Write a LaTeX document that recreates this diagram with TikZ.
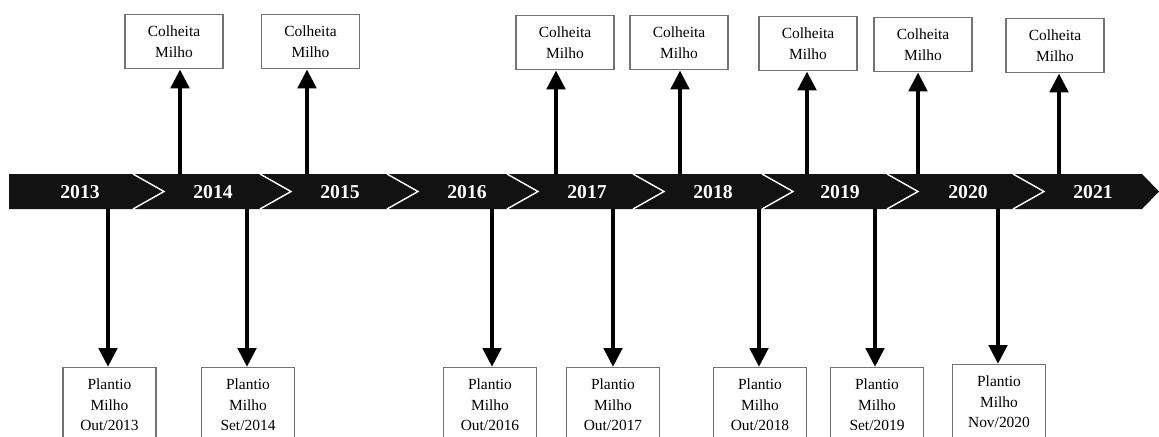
\documentclass[tikz,border=0pt]{standalone}
\usepackage{fontspec}
\setmainfont{Liberation Serif}
\usetikzlibrary{arrows.meta}

\begin{document}
\begin{tikzpicture}[x=0.02cm, y=-0.02cm,
        ano/.style={text=white, font=\fontsize{11.2}{13}\selectfont\bfseries},
        caixa/.style={draw=black!55, line width=0.6pt, fill=white, align=center, anchor=north,
            inner ysep=6.6pt, inner xsep=0pt, font=\fontsize{8.8}{11.5}\selectfont},
        seta/.style={line width=2.8pt, -{Triangle[length=0.38cm, width=0.36cm]}}]
    \useasboundingbox (0,0) rectangle (1159,436);
    \clip (0,0) rectangle (1159,436);

    % Bande du temps
    \fill[black!93] (9,174) -- (1142,174) -- (1159,191.5) -- (1142,209) -- (9,209) -- cycle;
    \foreach \b in {133, 260, 387, 507, 633, 762, 887, 1013} {
        \draw[white, line width=0.8pt] (\b,174) -- (\b+31,191.5) -- (\b,209);
    }

    % Années
    \foreach \a/\x in {2013/80, 2014/213, 2015/340, 2016/467, 2017/587, 2018/713, 2019/840, 2020/968, 2021/1093} {
        \node[ano] (a\a) at (\x,192) {\a};
    }

    % Colheita (au-dessus)
    \foreach \i/\x/\bx/\by in {1/180/174/14, 2/307/310.5/14, 3/556/565/15, 4/680/679/15, 5/807/808/16, 6/918/923/17, 7/1059/1055/18} {
        \coordinate (u\i) at (\x,174);
        \node[caixa, minimum width=1.96cm] (c\i) at (\bx,\by) {Colheita\\Milho};
        \draw[seta] (u\i) -- (u\i |- c\i.south);
    }

    % Plantio (en dessous)
    \foreach \i/\x/\bx/\by/\m/\y in {1/108/109.5/367/Out/2013, 2/247/248/367/Set/2014, 3/492/490/367/Out/2016, 4/613/613/367/Out/2017, 5/759/760/367/Out/2018, 6/875/877/367/Set/2019, 7/998/999/364/Nov/2020} {
        \coordinate (d\i) at (\x,209);
        \node[caixa, minimum width=1.86cm] (p\i) at (\bx,\by) {Plantio\\Milho\\\m/\y};
        \draw[seta] (d\i) -- (d\i |- p\i.north);
    }
\end{tikzpicture}
\end{document}
